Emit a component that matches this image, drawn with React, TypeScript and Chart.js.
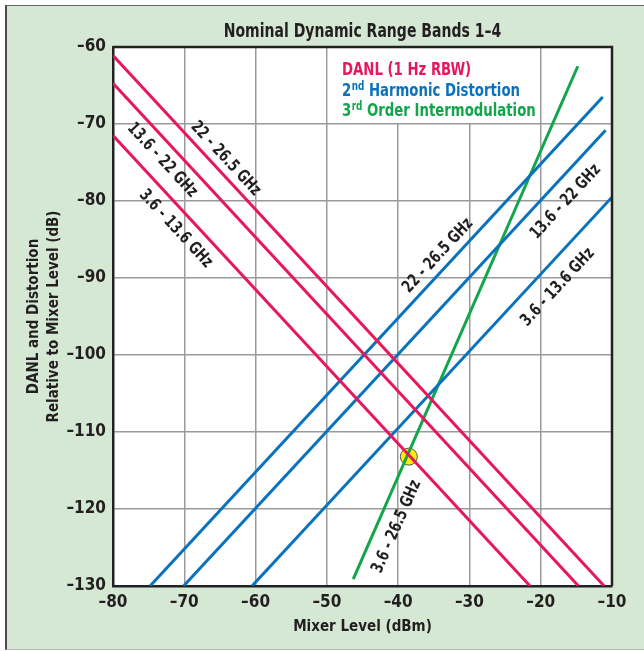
import React, { useEffect, useRef } from 'react';
import { Chart, registerables } from 'chart.js';

Chart.register(...registerables);

// ---------- data ----------
const xRange = [-80, -10];
const yRange = [-130, -60];
const bandNames = ['3.6 - 13.6 GHz', '13.6 - 22 GHz', '22 - 26.5 GHz'];

// DANL (1 Hz RBW) line end points, per band
const danlX = [[-80, -21.5], [-80, -14.7], [-80, -11.1]];
const danlY = [[-71.5, -130], [-64.7, -130], [-61.1, -130]];
// 2nd harmonic distortion end points, per band
const shdX = [[-60.5, -10], [-70.1, -10.9], [-74.8, -11.3]];
const shdY = [[-130, -79.5], [-130, -70.8], [-130, -66.5]];
// 3rd order intermodulation (3.6 - 26.5 GHz)
const toiName = '3.6 - 26.5 GHz';
const toiX = [-46.3, -14.8];
const toiY = [-129.1, -62.5];
// marked point
const markerX = [-38.5];
const markerY = [-113.2];

// label anchors (data coordinates)
const danlLabelX = [-71.2, -73.1, -64.2];
const danlLabelY = [-83.6, -74.7, -74.5];
const shdLabelX = [-17.6, -16.5, -34.4];
const shdLabelY = [-91.2, -80.1, -87.1];
const toiLabelX = -40.2;
const toiLabelY = -122.3;

const titleText = 'Nominal Dynamic Range Bands 1\u20134';
const xTitle = 'Mixer Level (dBm)';
const yTitle = ['DANL and Distortion', 'Relative to Mixer Level (dB)'];

// ---------- styles ----------
const FONT = "'Liberation Sans Narrow', 'Arial Narrow', 'DejaVu Sans Condensed', sans-serif";
const RED = '#e8175d';
const BLUE = '#0a72bc';
const GREEN = '#12a54c';
const TEXT = '#231f20';

const pts = (xs: number[], ys: number[]) => xs.map((x, i) => ({ x, y: ys[i] }));

export default function App() {
  const ref = useRef<HTMLCanvasElement | null>(null);

  useEffect(() => {
    if (!ref.current) return;

    const lineDs = (label: string, xs: number[], ys: number[], color: string) => ({
      type: 'line' as const,
      label,
      data: pts(xs, ys),
      borderColor: color,
      backgroundColor: color,
      borderWidth: 3,
      pointRadius: 0,
      showLine: true,
      fill: false,
      tension: 0,
    });

    const datasets: any[] = [];
    bandNames.forEach((n, i) => datasets.push(lineDs('DANL ' + n, danlX[i], danlY[i], RED)));
    bandNames.forEach((n, i) => datasets.push(lineDs('SHD ' + n, shdX[i], shdY[i], BLUE)));
    datasets.push(lineDs('TOI ' + toiName, toiX, toiY, GREEN));
    datasets.push({
      type: 'scatter',
      label: 'marker',
      data: pts(markerX, markerY),
      pointRadius: 8.5,
      pointBackgroundColor: '#ffec00',
      pointBorderColor: '#555',
      pointBorderWidth: 1,
    });

    const plugin = {
      id: 'decor',
      beforeDraw(chart: any) {
        const { ctx, chartArea: a } = chart;
        ctx.save();
        ctx.fillStyle = '#ffffff';
        ctx.fillRect(a.left, a.top, a.right - a.left, a.bottom - a.top);
        ctx.restore();
      },
      beforeDatasetsDraw(chart: any) {
        const { ctx } = chart;
        const xs = chart.scales.x, ys = chart.scales.y;
        const l = xs.getPixelForValue(-50) + 1, r = xs.getPixelForValue(-20) - 1;
        const t = ys.getPixelForValue(-60) + 1, b = ys.getPixelForValue(-70) - 1;
        ctx.save();
        ctx.fillStyle = '#ffffff';
        ctx.fillRect(l, t, r - l, b - t);
        ctx.restore();
      },
      afterDatasetsDraw(chart: any) {
        const { ctx } = chart;
        const xs = chart.scales.x, ys = chart.scales.y;
        const px = (v: number) => xs.getPixelForValue(v);
        const py = (v: number) => ys.getPixelForValue(v);
        const drawLabel = (text: string, lx: number, ly: number, sx: number[], sy: number[]) => {
          const ang = Math.atan2(py(sy[1]) - py(sy[0]), px(sx[1]) - px(sx[0]));
          ctx.save();
          ctx.translate(px(lx), py(ly));
          ctx.rotate(ang);
          ctx.scale(0.82, 1);
          ctx.font = `bold 17px ${FONT}`;
          ctx.fillStyle = TEXT;
          ctx.textAlign = 'center';
          ctx.textBaseline = 'middle';
          ctx.fillText(text, 0, 0);
          ctx.restore();
        };
        bandNames.forEach((n, i) => drawLabel(n, danlLabelX[i], danlLabelY[i], danlX[i], danlY[i]));
        bandNames.forEach((n, i) => drawLabel(n, shdLabelX[i], shdLabelY[i], shdX[i], shdY[i]));
        drawLabel(toiName, toiLabelX, toiLabelY, toiX, toiY);

        // legend
        ctx.save();
        ctx.translate(342, 0);
        ctx.scale(0.82, 1);
        ctx.textBaseline = 'alphabetic';
        ctx.textAlign = 'left';
        const big = `bold 18px ${FONT}`;
        const small = `bold 12px ${FONT}`;
        ctx.font = big;
        ctx.fillStyle = RED;
        ctx.fillText('DANL (1 Hz RBW)', 0, 75);
        const sup = (n: string, s: string, rest: string, y: number, color: string) => {
          ctx.fillStyle = color;
          let x = 0;
          ctx.font = big;
          ctx.fillText(n, x, y);
          x += ctx.measureText(n).width;
          ctx.font = small;
          ctx.fillText(s, x + 0.5, y - 6);
          x += ctx.measureText(s).width + 0.5;
          ctx.font = big;
          ctx.fillText(rest, x, y);
        };
        sup('2', 'nd', ' Harmonic Distortion', 95.5, BLUE);
        sup('3', 'rd', ' Order Intermodulation', 116, GREEN);
        ctx.restore();
      },
      afterDraw(chart: any) {
        const { ctx, chartArea: a } = chart;
        ctx.save();
        ctx.strokeStyle = '#222';
        ctx.lineWidth = 2.5;
        ctx.beginPath();
        ctx.moveTo(a.left, a.top);
        ctx.lineTo(a.right, a.top);
        ctx.lineTo(a.right, a.bottom);
        ctx.stroke();
        ctx.translate((a.left + a.right) / 2, 0);
        ctx.scale(0.8, 1);
        ctx.font = `bold 19.5px ${FONT}`;
        ctx.fillStyle = TEXT;
        ctx.textAlign = 'center';
        ctx.textBaseline = 'alphabetic';
        ctx.fillText(titleText, 0, 36.5);
        ctx.restore();
      },
    };

    const tickCb = (v: any) => (Number(v) < 0 ? '\u2013' + Math.abs(Number(v)) : String(v));

    const chart = new Chart(ref.current, {
      type: 'line',
      data: { datasets },
      options: {
        animation: false,
        responsive: false,
        maintainAspectRatio: false,
        layout: { padding: { left: 0, top: 47, right: 32, bottom: 0 } },
        plugins: { legend: { display: false }, tooltip: { enabled: false }, title: { display: false } },
        scales: {
          x: {
            type: 'linear',
            min: xRange[0],
            max: xRange[1],
            afterFit: (s: any) => { s.height = 65; },
            ticks: { stepSize: 10, callback: tickCb, color: TEXT, padding: 6.5, font: { family: FONT, size: 17, weight: 'bold' } },
            grid: { color: '#9a9a9a', lineWidth: 1.5, drawTicks: false },
            border: { display: true, color: '#222', width: 2.5 },
            title: { display: true, text: xTitle, color: TEXT, padding: { top: 0, bottom: 14.5 }, font: { family: FONT, size: 15, weight: 'bold', lineHeight: 1.25 } },
          },
          y: {
            type: 'linear',
            min: yRange[0],
            max: yRange[1],
            afterFit: (s: any) => { s.width = 113; },
            ticks: { stepSize: 10, callback: tickCb, color: TEXT, padding: 7, font: { family: FONT, size: 17, weight: 'bold' } },
            grid: { color: '#9a9a9a', lineWidth: 1.5, drawTicks: false },
            border: { display: true, color: '#222', width: 2.5 },
            title: { display: true, text: yTitle, color: TEXT, padding: { top: 24.5, bottom: 0 }, font: { family: FONT, size: 15, weight: 'bold', lineHeight: 1.3 } },
          },
        },
      },
      plugins: [plugin],
    } as any);

    return () => chart.destroy();
  }, []);

  return (
    <div style={{ position: 'absolute', left: 0, top: 0, width: 644, height: 651, background: '#ffffff', overflow: 'hidden' }}>
      <div
        style={{
          position: 'absolute',
          left: 5,
          top: 5,
          width: 639,
          height: 645,
          background: '#d5e8d4',
          borderLeft: '2px solid #4a4a4a',
          borderTop: '1px solid #666',
          borderBottom: '1px solid #b5b5b5',
          boxSizing: 'border-box',
        }}
      />
      <canvas ref={ref} width={644} height={651} style={{ position: 'absolute', left: 0, top: 0, width: 644, height: 651 }} />
    </div>
  );
}
